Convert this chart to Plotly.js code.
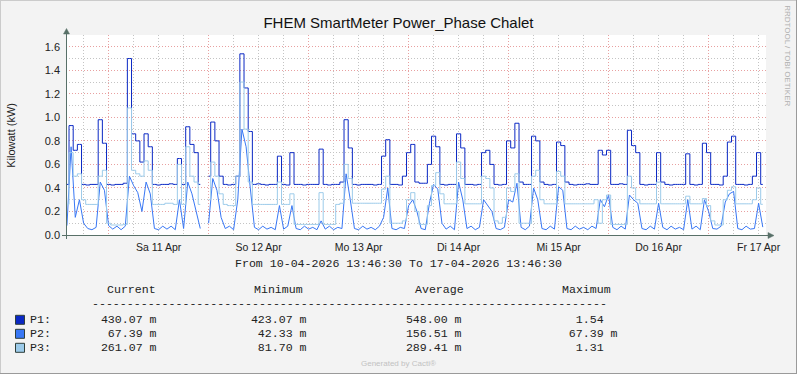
<!DOCTYPE html>
<html><head><meta charset="utf-8">
<script src="https://cdn.plot.ly/plotly-3.0.1.min.js"></script>
<style>html,body{margin:0;padding:0;background:#f3f3f3;}#chart{width:797px;height:374px;}</style>
</head><body><div id="chart"></div>
<script>
// ---- data ----
const startTime = '2026-04-10 14:00:00';   // first hourly sample
const rangeStart = '2026-04-10 13:46:30';
const rangeEnd = '2026-04-17 13:46:30';
const tickDays = ['2026-04-11 12:00:00','2026-04-12 12:00:00','2026-04-13 12:00:00','2026-04-14 12:00:00','2026-04-15 12:00:00','2026-04-16 12:00:00','2026-04-17 12:00:00'];
const tickLabels = ['Sa 11 Apr','So 12 Apr','Mo 13 Apr','Di 14 Apr','Mi 15 Apr','Do 16 Apr','Fr 17 Apr'];

const p1 = [0.43,0.93,0.72,0.77,0.43,0.425,0.43,0.43,0.98,0.78,
 0.43,0.425,0.43,0.43,0.44,1.50,0.86,0.80,0.62,0.86,
 0.75,0.43,0.425,0.43,0.43,0.435,0.43,0.65,0.43,0.92,
 0.77,0.70,0.43,null,0.50,0.96,0.80,0.50,0.43,0.425,
 0.43,0.50,1.54,1.25,0.88,0.43,0.435,0.43,0.425,0.43,
 0.43,0.67,0.43,0.425,0.70,0.43,0.43,0.425,0.43,0.43,
 0.43,0.73,0.43,0.425,0.43,0.43,0.45,0.98,0.74,0.43,
 0.425,0.43,0.43,0.43,0.425,0.43,0.67,0.81,0.43,0.43,
 0.425,0.50,0.70,0.77,0.45,0.44,0.44,0.60,0.84,0.75,
 0.43,0.425,0.43,0.43,0.86,0.74,0.43,0.43,0.425,0.43,
 0.70,0.72,0.60,0.43,0.425,0.43,0.80,0.74,0.95,0.45,
 0.43,0.43,0.84,0.80,0.45,0.43,0.425,0.43,0.79,0.76,
 0.45,0.43,0.425,0.43,0.43,0.435,0.43,0.43,0.72,0.68,
 0.72,0.43,0.43,0.435,0.43,0.89,0.76,0.70,0.43,0.425,
 0.43,0.43,0.70,0.45,0.43,0.425,0.43,0.43,0.43,0.69,
 0.43,0.425,0.43,0.78,0.70,0.43,0.43,0.425,0.50,0.79,
 0.84,0.43,0.43,0.425,0.43,0.50,0.70,0.43];

const p2 = [0.08,0.75,0.15,0.30,0.10,0.055,0.045,0.065,0.45,0.38,
 0.08,0.05,0.075,0.045,0.075,0.50,0.42,0.36,0.20,0.45,
 0.35,0.055,0.045,0.075,0.05,0.075,0.045,0.30,0.055,0.45,
 0.35,0.20,0.055,null,0.10,0.48,0.38,0.15,0.055,0.075,
 0.045,0.30,0.90,0.75,0.40,0.065,0.045,0.075,0.05,0.065,
 0.045,0.25,0.05,0.075,0.25,0.055,0.045,0.075,0.05,0.065,
 0.045,0.12,0.05,0.075,0.045,0.065,0.055,0.52,0.30,0.055,
 0.045,0.075,0.05,0.065,0.045,0.075,0.15,0.40,0.055,0.045,
 0.065,0.055,0.25,0.30,0.20,0.055,0.045,0.27,0.43,0.39,
 0.10,0.05,0.075,0.045,0.45,0.30,0.055,0.075,0.045,0.065,
 0.30,0.25,0.20,0.055,0.045,0.065,0.30,0.28,0.44,0.065,
 0.045,0.075,0.40,0.30,0.055,0.045,0.075,0.05,0.41,0.38,
 0.055,0.045,0.075,0.05,0.065,0.045,0.075,0.055,0.30,0.24,
 0.34,0.065,0.045,0.075,0.05,0.34,0.30,0.27,0.055,0.045,
 0.075,0.05,0.27,0.065,0.045,0.075,0.05,0.065,0.045,0.30,
 0.05,0.075,0.045,0.30,0.20,0.055,0.05,0.075,0.28,0.35,
 0.37,0.055,0.045,0.075,0.05,0.055,0.27,0.067];

const p3 = [0.26,0.70,0.50,0.52,0.30,0.26,0.26,0.26,0.50,0.55,
 0.10,0.085,0.085,0.085,0.09,1.08,0.55,0.52,0.50,0.63,
 0.55,0.26,0.26,0.26,0.27,0.27,0.26,0.60,0.26,0.75,
 0.50,0.45,0.26,null,0.30,0.62,0.50,0.35,0.26,0.25,
 0.25,0.50,1.30,0.90,0.45,0.26,0.26,0.26,0.26,0.26,
 0.26,0.45,0.26,0.26,0.35,0.09,0.09,0.09,0.09,0.09,
 0.09,0.36,0.09,0.09,0.09,0.26,0.27,0.60,0.48,0.27,
 0.27,0.27,0.27,0.27,0.27,0.27,0.39,0.50,0.10,0.10,
 0.10,0.12,0.30,0.36,0.20,0.09,0.09,0.25,0.42,0.53,
 0.35,0.265,0.265,0.265,0.62,0.48,0.265,0.265,0.265,0.265,
 0.50,0.48,0.40,0.12,0.10,0.15,0.40,0.37,0.52,0.10,
 0.10,0.10,0.50,0.55,0.30,0.265,0.265,0.265,0.54,0.50,
 0.265,0.265,0.265,0.265,0.265,0.265,0.265,0.30,0.10,0.30,
 0.34,0.09,0.09,0.09,0.09,0.50,0.40,0.30,0.265,0.265,
 0.265,0.265,0.45,0.265,0.265,0.265,0.265,0.265,0.265,0.33,
 0.265,0.265,0.265,0.31,0.25,0.12,0.085,0.085,0.30,0.38,
 0.41,0.265,0.265,0.265,0.265,0.30,0.40,0.261];

const seriesNames = ['P1:','P2:','P3:'];
const seriesColors = ['#0a28c4','#3877f5','#9ccbea'];
const headers = ['Current','Minimum','Average','Maximum'];
const colCurrent = ['430.07 m','67.39 m','261.07 m'];
const colMinimum = ['423.07 m','42.33 m','81.70 m'];
const colAverage = ['548.00 m','156.51 m','289.41 m'];
const colMaximum = ['1.54','67.39 m','1.31'];
const titleText = 'FHEM SmartMeter Power_Phase Chalet';
const yTitle = 'Kilowatt (kW)';
const periodText = 'From 10-04-2026 13:46:30 To 17-04-2026 13:46:30';

// ---- build ----
function ts(i){
  const d = new Date(Date.parse(startTime.replace(' ','T')+'Z') + i*3600e3);
  return d.toISOString().slice(0,19).replace('T',' ');
}
const times = p1.map((_,i)=>ts(i));

const L=66,T=35,W=700,H=200;
const X = px => (px-L)/W;
const Y = py => (T+H-py)/H;
const NB = '\u00a0';
const mono = {family:'Liberation Mono, Courier New, monospace', size:11.6, color:'#222'};

function ann(text, px, py, font, extra){
  return Object.assign({xref:'paper',yref:'paper',x:X(px),y:Y(py),text:text,showarrow:false,
    xanchor:'left',yanchor:'middle',borderpad:0,borderwidth:0,font:font}, extra||{});
}
function field(s){
  const parts = s.split(' ');
  return parts[0].padStart(8, NB) + (parts[1] ? NB + parts[1] : '');
}

const shapesByTrace = ['hvh','linear','hvh'];
const traces = [p1,p2,p3].map((vals,k)=>({
  type:'scatter', mode:'lines', x:times, y:vals, xaxis:'x', yaxis:'y',
  line:{color:seriesColors[k], width:1, shape:shapesByTrace[k]}, connectgaps:false, hoverinfo:'skip', name:seriesNames[k]
}));
traces.push({type:'scatter', mode:'lines', x:[rangeStart], y:[null], xaxis:'x2', yaxis:'y', showlegend:false, hoverinfo:'skip'});

const annotations = [];
annotations.push(ann(yTitle, 10.8, 135, {family:'Liberation Sans, Arial, sans-serif', size:11, color:'#222'}, {xanchor:'center', textangle:-90}));
annotations.push(ann(periodText, 398.5, 263, mono, {xanchor:'center'}));
const headerX = [106.5, 253.5, 415, 562];
headers.forEach((h,k)=>annotations.push(ann(h, headerX[k], 289.8, mono)));
annotations.push(ann('-'.repeat(74), 91.8, 303.6, mono));
const rowY = [319.2, 333.2, 347.3];
const fieldX = [87.4, 237.4, 392.4, 548.4];
const cols = [colCurrent, colMinimum, colAverage, colMaximum];
seriesNames.forEach((n,r)=>{
  annotations.push(ann(n, 30, rowY[r], mono));
  cols.forEach((c,k)=>annotations.push(ann(field(c[r]), fieldX[k], rowY[r], mono)));
});
annotations.push(ann('Generated by Cacti®', 398.5, 363.3, {family:'Liberation Sans, Arial, sans-serif', size:8, color:'#c2c2c2'}, {xanchor:'center'}));
annotations.push(ann('RRDTOOL / TOBI OETIKER', 787.8, 56, {family:'Liberation Sans, Arial, sans-serif', size:8, color:'#b0b0b0'}, {xanchor:'center', textangle:90}));

const axisColor = '#587068';
const shapes = [];
function line(x0,y0,x1,y1,color){ shapes.push({type:'line',xref:'paper',yref:'paper',x0:X(x0),y0:Y(y0),x1:X(x1),y1:Y(y1),line:{color:color,width:1}}); }
// border
line(0,0.5,797,0.5,'#cbcbcb'); line(0.5,0,0.5,374,'#cbcbcb');
line(0,373.5,797,373.5,'#9a9a9a'); line(796.5,0,796.5,374,'#9a9a9a');
// axes
line(62,235.5,770,235.5,axisColor);
line(66.5,239,66.5,32,axisColor);
function tri(pts,color){
  const d = 'M ' + pts.map(p=>X(p[0])+','+Y(p[1])).join(' L ') + ' Z';
  shapes.push({type:'path',xref:'paper',yref:'paper',path:d,fillcolor:color,line:{color:color,width:0.5}});
}
tri([[63.5,34],[69.5,34],[66.5,28.5]], axisColor);
tri([[768,232.5],[768,238.5],[774,235.5]], axisColor);
// legend squares
seriesColors.forEach((c,r)=>{
  const cy = 319.8 + 14*r;
  shapes.push({type:'rect',xref:'paper',yref:'paper',x0:X(15.5),x1:X(24.5),y0:Y(cy-4.5),y1:Y(cy+4.5),fillcolor:c,line:{color:'#2f3f3a',width:1}});
});

const grey = '#c4c4c4', red = '#e8a0a0', dash = '1px,2px';
const layout = {
  width:797, height:374, margin:{l:L,r:797-L-W,t:T,b:374-T-H,pad:0},
  paper_bgcolor:'#f3f3f3', plot_bgcolor:'#ffffff', showlegend:false,
  title:{text:titleText, font:{family:'Liberation Sans, Arial, sans-serif', size:15, color:'#111'}, x:0.5, xanchor:'center', xref:'container', y:1-22.5/374, yanchor:'middle', yref:'container'},
  xaxis:{type:'date', range:[rangeStart,rangeEnd], tick0:'2026-04-11 00:00:00', dtick:86400000,
    showticklabels:false, ticks:'', showgrid:true, gridcolor:red, griddash:dash, gridwidth:1,
    zeroline:false, showline:false, fixedrange:true,
    minor:{tick0:'2026-04-11 00:00:00', dtick:21600000, showgrid:true, gridcolor:grey, griddash:dash, gridwidth:1, ticks:''}},
  xaxis2:{type:'date', overlaying:'x', anchor:'y', side:'bottom', range:[rangeStart,rangeEnd],
    tickmode:'array', tickvals:tickDays, ticktext:tickLabels, showgrid:false, ticks:'', zeroline:false, showline:false,
    tickfont:{family:'Liberation Sans, Arial, sans-serif', size:10.5, color:'#222'}, ticklabelstandoff:4, fixedrange:true},
  yaxis:{range:[0,1.7], tick0:0, dtick:0.2, tickformat:'.1f', showgrid:true, gridcolor:red, griddash:dash, gridwidth:1,
    zeroline:false, showline:false, ticks:'', fixedrange:true,
    minor:{tick0:0, dtick:0.1, showgrid:true, gridcolor:grey, griddash:dash, gridwidth:1, ticks:''},
    tickfont:{family:'Liberation Sans, Arial, sans-serif', size:11, color:'#222'}, ticklabelstandoff:5},
  shapes:shapes, annotations:annotations
};
Plotly.newPlot('chart', traces, layout, {staticPlot:true, displayModeBar:false});
</script>
</body></html>
